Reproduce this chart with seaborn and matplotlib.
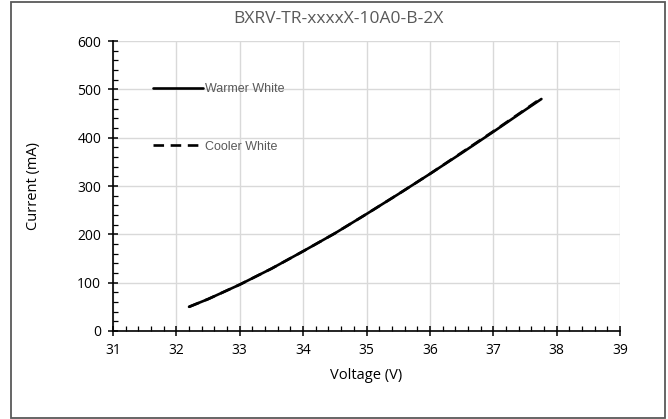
import matplotlib
matplotlib.use("Agg")
import matplotlib.pyplot as plt
from matplotlib.patches import Rectangle
from matplotlib.ticker import MultipleLocator
import pandas as pd
import seaborn as sns

# values
voltage_warm = [32.2, 32.5, 33.0, 33.5, 34.0, 34.5, 35.0, 35.5, 36.0, 36.5, 37.0, 37.5, 37.76]
current_warm = [50, 66, 96, 129, 165, 202, 242, 283, 325, 368, 412, 457, 480]
voltage_cool = [32.2, 32.5, 33.0, 33.5, 34.0, 34.5, 35.0, 35.5, 36.0, 36.5, 37.0, 37.5, 37.74]
current_cool = [50, 66, 96, 129, 165, 202, 242, 283, 325, 369, 413, 458, 480]
series_names = ["Warmer White", "Cooler White"]

df = pd.concat([
    pd.DataFrame({"V": voltage_warm, "I": current_warm, "s": series_names[0]}),
    pd.DataFrame({"V": voltage_cool, "I": current_cool, "s": series_names[1]}),
])

sns.set_style("white")
plt.rcParams["font.family"] = ["Open Sans", "DejaVu Sans"]

fig = plt.figure(figsize=(6.68, 4.19), dpi=100)
ax = fig.add_axes([113 / 668, 1 - 331 / 419, 507 / 668, 290 / 419])

sns.lineplot(data=df, x="V", y="I", hue="s", style="s",
             palette=["black", "black"], dashes=[(None, None), (4, 2.5)],
             linewidth=1.9, sort=False, ax=ax)

ax.set_xlim(31, 39)
ax.set_ylim(0, 600)
ax.xaxis.set_major_locator(MultipleLocator(1))
ax.xaxis.set_minor_locator(MultipleLocator(0.2))
ax.yaxis.set_major_locator(MultipleLocator(100))
ax.yaxis.set_minor_locator(MultipleLocator(20))
ax.grid(True, which="major", color="#d9d9d9", linewidth=1.0)
ax.set_axisbelow(True)
for s in ["top", "right"]:
    ax.spines[s].set_visible(False)
for s in ["left", "bottom"]:
    ax.spines[s].set_color("black")
    ax.spines[s].set_linewidth(1.2)
ax.tick_params(which="major", direction="inout", length=7, width=1.1,
               color="black", labelsize=10, labelcolor="black", pad=5)
ax.tick_params(which="minor", direction="in", length=3.5, width=0.9, color="black")
ax.tick_params(axis="x", which="both", bottom=True)
ax.tick_params(axis="y", which="both", left=True)

ax.set_xlabel("Voltage (V)", fontsize=10.5, color="black", labelpad=7.5)
ax.set_ylabel("Current (mA)", fontsize=10.5, color="black", labelpad=26)

leg = ax.legend(loc="upper left", bbox_to_anchor=(0.07, 0.872), frameon=False,
                handlelength=4.0, handletextpad=0.1, labelspacing=3.65,
                prop={"family": ["Liberation Sans"], "size": 9},
                labelcolor="#595959", borderaxespad=0)

fig.text(0.507, 0.955, "BXRV-TR-xxxxX-10A0-B-2X", ha="center", va="center",
         fontsize=12.5, color="#595959")

fig.patches.append(Rectangle((11 / 668, 1 / 419), 654 / 668, 416 / 419,
                             transform=fig.transFigure, fill=False,
                             edgecolor="#595959", linewidth=1.3))

fig.savefig("out.png", dpi=100)
